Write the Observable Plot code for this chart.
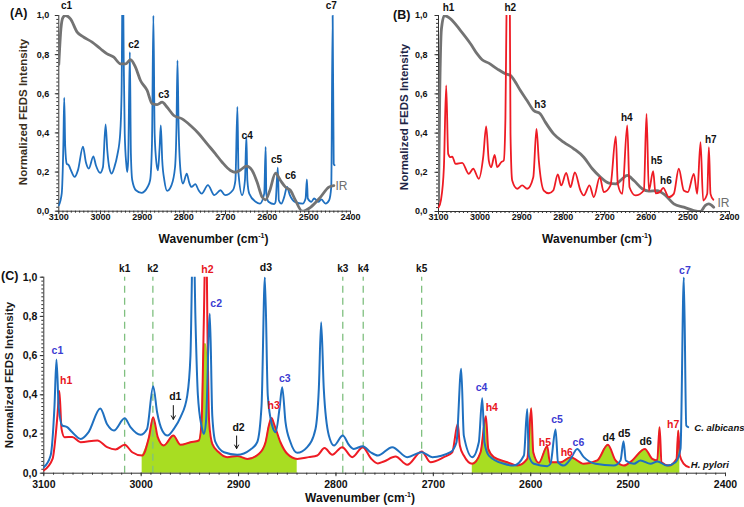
<!DOCTYPE html>
<html><head><meta charset="utf-8">
<script src="https://cdn.jsdelivr.net/npm/d3@7"></script>
<script src="https://cdn.jsdelivr.net/npm/@observablehq/plot@0.6"></script>
<style>
body{margin:0;background:#fff;}
#wrap{position:relative;width:744px;height:507px;overflow:hidden;font-family:"Liberation Sans",Arial,sans-serif;font-weight:bold;color:#111;}
#wrap svg{position:absolute;overflow:visible;}
.t{position:absolute;white-space:nowrap;line-height:1;}
.ytitle{transform:translate(-50%,-50%) rotate(-90deg);font-size:11.5px;}
.xtitle{transform:translate(-50%,-50%);font-size:12px;}
.plab{font-size:12.5px;}
sup{font-size:7px;vertical-align:5px;line-height:0;}
</style></head><body><div id="wrap"></div>
<script>
// ---------- data (wavenumber cm-1, normalized intensity) ----------
const xTicks = [3100, 3000, 2900, 2800, 2700, 2600, 2500, 2400];
const yTicks = [0, 0.2, 0.4, 0.6, 0.8, 1.0];

// C. albicans FEDS spectrum (panels A and C)
const albicans = [[3100,0.03],[3093,0.09],[3089,0.345],[3087,0.58],[3084.6,0.33],[3081,0.243],[3076,0.235],[3071,0.21],[3062,0.175],[3054,0.21],[3042,0.33],[3035,0.25],[3028,0.218],[3017,0.28],[3011,0.235],[3000.7,0.196],[2994,0.226],[2987.7,0.444],[2983.6,0.31],[2978.4,0.218],[2973,0.192],[2966.5,0.226],[2959.6,0.286],[2952.7,0.396],[2949.4,0.6],[2946.5,1.3],[2944.2,0.77],[2941.8,0.4],[2938,0.24],[2935.7,0.2],[2933.5,0.26],[2929.5,0.813],[2927,0.294],[2923.7,0.158],[2915,0.107],[2901.4,0.094],[2887.7,0.121],[2880.9,0.158],[2876.4,0.345],[2873,1.0],[2870,0.396],[2865.5,0.243],[2862,0.209],[2858,0.328],[2855.2,0.439],[2851.8,0.26],[2846.7,0.158],[2839.8,0.104],[2829.5,0.133],[2821,0.226],[2817.6,0.43],[2815.2,0.77],[2812.5,0.43],[2807.3,0.192],[2802,0.141],[2793,0.192],[2786.8,0.145],[2781.7,0.124],[2772.4,0.138],[2764.5,0.107],[2757,0.09],[2742.2,0.133],[2726.8,0.082],[2712,0.107],[2701,0.082],[2682.4,0.107],[2676.2,0.158],[2671.4,0.533],[2668.7,0.192],[2660,0.082],[2653.3,0.158],[2649.8,0.383],[2647.5,0.158],[2643,0.09],[2627.6,0.048],[2617.4,0.039],[2607,0.09],[2603.6,0.328],[2602,0.09],[2596.8,0.048],[2583,0.036],[2579.7,0.048],[2574.5,0.223],[2572,0.056],[2566,0.039],[2559,0.073],[2552.3,0.124],[2545.5,0.082],[2533.5,0.048],[2514.7,0.039],[2507.8,0.065],[2504.7,0.163],[2502.4,0.065],[2494,0.048],[2487.3,0.065],[2477,0.048],[2470,0.06],[2460,0.039],[2451.3,0.056],[2446.2,0.124],[2442.8,1.0],[2440.3,0.243],[2438.3,0.235]];

// H. pylori FEDS spectrum as drawn in panel C
const pyloriC = [[3100,0.014],[3091,0.073],[3086,0.294],[3084,0.42],[3081.8,0.226],[3078.7,0.184],[3070.8,0.185],[3062.3,0.158],[3045,0.167],[3035,0.133],[3026.4,0.121],[3017,0.145],[3009.2,0.107],[2999,0.09],[2992,0.184],[2987.7,0.286],[2983,0.184],[2976.8,0.141],[2967,0.192],[2959.6,0.145],[2949.4,0.158],[2940.8,0.167],[2938,0.26],[2935.7,0.77],[2933.5,1.3],[2931.6,0.6],[2930.2,0.26],[2927,0.15],[2920.3,0.107],[2911.7,0.082],[2901.4,0.088],[2891,0.073],[2879,0.099],[2872.3,0.158],[2868.9,0.243],[2866.2,0.281],[2863,0.243],[2857,0.158],[2850,0.099],[2839.8,0.073],[2827.9,0.082],[2819.2,0.09],[2811.7,0.128],[2803.8,0.094],[2793.6,0.133],[2783.3,0.082],[2772.4,0.133],[2764,0.075],[2757,0.05],[2750.8,0.06],[2738.8,0.085],[2726.8,0.043],[2712,0.111],[2702.9,0.056],[2689.2,0.082],[2680.6,0.107],[2674.9,0.252],[2672.8,0.141],[2668.7,0.09],[2660,0.048],[2651.5,0.107],[2646,0.291],[2643.6,0.124],[2637.9,0.082],[2624,0.056],[2613.9,0.039],[2603.6,0.073],[2599.5,0.332],[2597.4,0.107],[2591.7,0.053],[2583,0.138],[2580.4,0.056],[2569.4,0.056],[2559,0.082],[2545.5,0.048],[2531.7,0.065],[2520.8,0.145],[2512.9,0.065],[2504.4,0.039],[2495.8,0.065],[2482.8,0.124],[2475.2,0.073],[2470.1,0.065],[2467.7,0.235],[2465.7,0.056],[2458.2,0.039],[2450.3,0.073],[2448.5,0.218],[2446.9,0.09],[2442.8,0.048],[2437.6,0.031]];

// H. pylori FEDS spectrum as drawn in panel B
const pyloriB = [[3100,0.02],[3094,0.06],[3087,0.226],[3081.5,0.643],[3076.7,0.294],[3071,0.277],[3067,0.28],[3059,0.243],[3043,0.248],[3027,0.192],[3016.5,0.218],[3003,0.167],[2992.5,0.277],[2985.3,0.434],[2979,0.26],[2973.2,0.226],[2965,0.289],[2958.8,0.226],[2949,0.252],[2943,0.26],[2939,0.48],[2936,1.1],[2932,1.4],[2928.5,1.1],[2926.8,0.396],[2922.7,0.158],[2910.7,0.116],[2898.7,0.133],[2886.6,0.116],[2872,0.175],[2864.3,0.422],[2858.7,0.26],[2846.7,0.107],[2834.6,0.093],[2824,0.107],[2813,0.189],[2804.8,0.133],[2792.8,0.197],[2782.5,0.124],[2772,0.2],[2758.4,0.107],[2750.4,0.082],[2736.8,0.133],[2726.4,0.073],[2712,0.175],[2702.4,0.099],[2686.3,0.133],[2673.5,0.383],[2668.7,0.141],[2658,0.09],[2646,0.439],[2640.5,0.124],[2626,0.082],[2606,0.107],[2599.6,0.498],[2594,0.107],[2583.6,0.206],[2578,0.093],[2567.6,0.099],[2559.5,0.121],[2546,0.073],[2534,0.09],[2522,0.218],[2510,0.107],[2500.3,0.099],[2485.8,0.192],[2477.7,0.09],[2469.7,0.354],[2463.4,0.056],[2453.6,0.09],[2449.6,0.328],[2445.7,0.09],[2439,0.06]];

// IR spectra (grey)
const irA = [[3100,0.75],[3095,0.93],[3090,0.99],[3084,1.0],[3072,0.983],[3056,0.915],[3040,0.889],[3020,0.864],[3000,0.83],[2984,0.804],[2968,0.787],[2952,0.753],[2940,0.753],[2928,0.774],[2916,0.736],[2904,0.668],[2888,0.617],[2876,0.549],[2864,0.545],[2852,0.557],[2840,0.531],[2824,0.489],[2804,0.472],[2784,0.438],[2764,0.396],[2744,0.344],[2724,0.293],[2708,0.25],[2688,0.208],[2676,0.199],[2664,0.211],[2649.6,0.23],[2636,0.208],[2624,0.148],[2612,0.072],[2604,0.058],[2593.6,0.106],[2580,0.194],[2568,0.157],[2556,0.123],[2544,0.106],[2532,0.055],[2516,0.0],[2496,0.02],[2472,0.072],[2452,0.123],[2440,0.131]];
const irB = [[3100,0.05],[3097,0.6],[3093,0.93],[3086,1.0],[3071,0.983],[3047,0.923],[3023,0.856],[3007,0.804],[2995,0.774],[2979,0.757],[2959,0.728],[2939,0.703],[2927,0.694],[2915,0.66],[2903,0.617],[2887,0.566],[2871,0.515],[2855,0.498],[2843,0.456],[2823,0.396],[2799,0.354],[2774.5,0.32],[2750.5,0.277],[2730,0.218],[2710,0.175],[2690,0.145],[2674,0.141],[2658,0.167],[2646,0.184],[2630,0.158],[2610,0.116],[2594,0.104],[2574,0.107],[2554,0.082],[2534,0.039],[2510,0.022],[2486,0.005],[2470,0.0],[2458,0.031],[2450,0.039],[2438,0.022]];

// annotations
const kLines = [3017, 2988, 2793, 2772, 2712];
const kNames = ["k1", "k2", "k3", "k4", "k5"];
const greenRanges = [[3000, 2838], [2660, 2446.9]];
const greenCap = 0.66;
const labelsA = [["c1",3081.5,1.05],["c2",2920,0.85],["c3",2848,0.596],["c4",2648,0.383],["c5",2577.5,0.263],["c6",2544,0.179],["c7",2446,1.05]];
const labelsB = [["h1",3076,1.04],["h2",2927.5,1.04],["h3",2855.5,0.544],["h4",2647,0.476],["h5",2575.6,0.257],["h6",2553,0.155],["h7",2445,0.366]];
const labelsC = [["c1",3086,0.626],["h1",3077,0.47],["h2",2932,1.04],["c2",2923,0.864],["d1",2965,0.39],["d2",2900,0.23],["d3",2872,1.05],["c3",2852.5,0.485],["h3",2864,0.345],["c4",2650.5,0.436],["h4",2640,0.337],["c5",2573,0.272],["h5",2585.5,0.157],["h6",2563,0.107],["c6",2551,0.157],["d4",2520,0.179],["d5",2504,0.2],["d6",2482,0.163],["h7",2453.7,0.248],["c7",2441.7,1.034]];
const arrowsC = [[2967,0.345,2967,0.275],[2902,0.19,2902,0.126]];
const speciesC = [["C. albicans",2432,0.23],["H. pylori",2435.6,0.04]];

// ---------- style ----------
const FONT = '"Liberation Sans", Arial, sans-serif';
const BLUE = "#1f70c0", RED = "#ee1b24", GREY = "#737373", GREEN = "#a8dd22";
const LBLUE = "#3c3cd2", LRED = "#e8161d";
const labColor = n => n[0] === "c" ? LBLUE : n[0] === "h" ? LRED : "#111";
const yFmt = d => d.toFixed(1).replace(".", ",");
const wrap = document.getElementById("wrap");

function axes(fs, xPad, yPad) {
  return [
    Plot.axisX({ticks: xTicks, tickSize: 3.5, tickFormat: () => "", label: null, stroke: "#333"}),
    Plot.axisX({ticks: d3.range(2400, 3101, 10), tickSize: 2, tickFormat: () => "", label: null, stroke: "#333"}),
    Plot.axisX({ticks: xTicks, tickSize: 0, tickPadding: xPad, tickFormat: d => String(d), label: null, fontSize: fs, fontWeight: "bold", fill: "#111"}),
    Plot.axisY({ticks: yTicks, tickSize: 3.5, tickFormat: () => "", label: null, stroke: "#333"}),
    Plot.axisY({ticks: d3.range(0, 1.001, 0.02), tickSize: 2, tickFormat: () => "", label: null, stroke: "#333"}),
    Plot.axisY({ticks: yTicks, tickSize: 0, tickPadding: yPad, tickFormat: yFmt, label: null, fontSize: fs, fontWeight: "bold", fill: "#111"}),
    Plot.ruleY([0], {stroke: "#333", strokeWidth: 1}),
    Plot.ruleX([3100], {stroke: "#333", strokeWidth: 1})
  ];
}

function panel(c) {
  const svg = Plot.plot({
    width: c.w, height: c.h,
    marginLeft: c.ml, marginRight: c.mr, marginTop: c.mt, marginBottom: c.mb,
    x: {domain: [3100, 2400], axis: null},
    y: {domain: [0, 1], axis: null},
    color: {type: "identity"},
    style: {fontFamily: FONT, fontWeight: "bold", background: "none", overflow: "visible"},
    marks: c.marks
  });
  svg.style.left = c.left + "px";
  svg.style.top = c.top + "px";
  wrap.appendChild(svg);
}

const peakText = (arr, fs) => Plot.text(arr, {x: d => d[1], y: d => d[2], text: d => d[0], fill: d => labColor(d[0]), fontSize: fs, fontWeight: "bold"});

// Panel A
panel({left: 0, top: 0, w: 372, h: 250, ml: 58.3, mr: 22, mt: 15, mb: 39.3, marks: [
  ...axes(9, 2, 9.5),
  Plot.line(albicans, {stroke: BLUE, strokeWidth: 1.8, curve: "monotone-x", clip: true}),
  Plot.line(irA, {stroke: GREY, strokeWidth: 2.8, curve: "monotone-x", clip: true}),
  Plot.text(labelsA, {x: d => d[1], y: d => d[2], text: d => d[0], fill: "#111", fontSize: 10, fontWeight: "bold"}),
  Plot.text(["IR"], {x: 2436, y: 0.128, text: d => d, fill: "#6e6e6e", fontSize: 12, fontWeight: "normal", textAnchor: "start"})
]});

// Panel B
panel({left: 372, top: 0, w: 372, h: 250, ml: 66, mr: 15, mt: 15, mb: 39, marks: [
  ...axes(9, 2, 11),
  Plot.line(irB, {stroke: GREY, strokeWidth: 2.8, curve: "monotone-x", clip: true}),
  Plot.line(pyloriB, {stroke: RED, strokeWidth: 1.8, curve: "monotone-x", clip: true}),
  Plot.text(labelsB, {x: d => d[1], y: d => d[2], text: d => d[0], fill: "#111", fontSize: 10, fontWeight: "bold"}),
  Plot.text(["IR"], {x: 2429, y: 0.044, text: d => d, fill: "#6e6e6e", fontSize: 12, fontWeight: "normal", textAnchor: "start"})
]});

// Panel C
const inRange = (d, r) => d[0] <= r[0] && d[0] >= r[1];
panel({left: 0, top: 250, w: 744, h: 257, ml: 43.3, mr: 19, mt: 26.7, mb: 34.3, marks: [
  ...greenRanges.map(r => Plot.areaY(pyloriC.filter(d => inRange(d, r)), {x: d => d[0], y: d => Math.min(d[1], greenCap), fill: GREEN, curve: "monotone-x"})),
  Plot.ruleX(kLines, {x: d => d, y1: 0, y2: 1, stroke: "#80c080", strokeWidth: 1.3, strokeDasharray: "7,5"}),
  Plot.text(kNames, {x: (d, i) => kLines[i], y: 1.045, text: d => d, fill: "#111", fontSize: 10, fontWeight: "bold"}),
  ...axes(10.5, 7, 6.5),
  Plot.line(pyloriC, {stroke: RED, strokeWidth: 2, curve: "monotone-x", clip: true}),
  Plot.line(albicans, {stroke: BLUE, strokeWidth: 2, curve: "monotone-x", clip: true}),
  peakText(labelsC, 10.5),
  Plot.arrow(arrowsC, {x1: d => d[0], y1: d => d[1], x2: d => d[2], y2: d => d[3], stroke: "#111", strokeWidth: 1, headLength: 6}),
  Plot.text(speciesC, {x: d => d[1], y: d => d[2], text: d => d[0], fill: "#111", fontSize: 9.5, fontWeight: "bold", fontStyle: "italic", textAnchor: "start"})
]});

// HTML titles
function addText(html, cls, x, y, extra) {
  const el = document.createElement("div");
  el.className = "t " + cls;
  el.innerHTML = html;
  el.style.left = x + "px";
  el.style.top = y + "px";
  if (extra) Object.assign(el.style, extra);
  wrap.appendChild(el);
}
const wn = "Wavenumber (cm<sup>-1</sup>)";
const yt = "Normalized FEDS Intensity";
addText(yt, "ytitle", 23.5, 112, {color: "#3a2f20"});
addText(yt, "ytitle", 405, 117, {color: "#1e2546"});
addText(yt, "ytitle", 10, 375, {color: "#1a1a1a"});
addText(wn, "xtitle", 213.5, 239, {});
addText(wn, "xtitle", 597, 239, {});
addText(wn, "xtitle", 360, 498, {});
addText("(A)", "plab", 10, 7, {});
addText("(B)", "plab", 393, 9, {});
addText("(C)", "plab", 1, 270, {});
</script></body></html>
